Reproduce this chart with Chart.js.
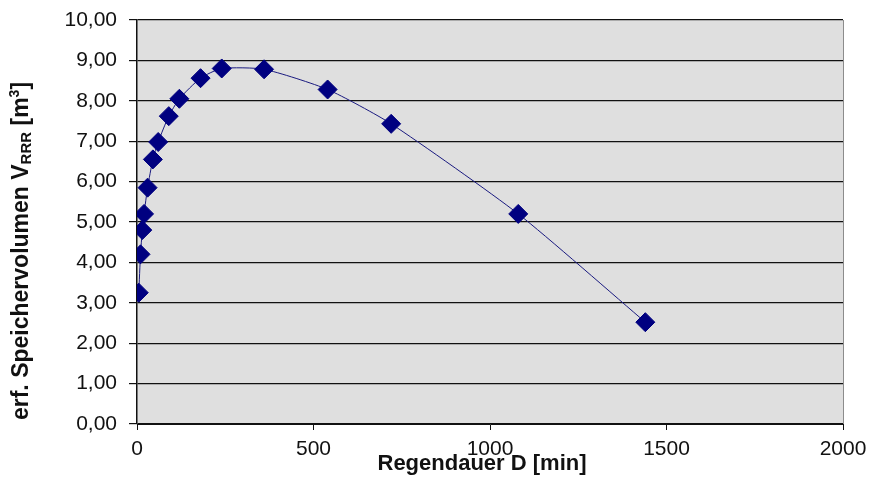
<!DOCTYPE html>
<html>
<head>
<meta charset="utf-8">
<script src="https://cdn.jsdelivr.net/npm/chart.js@4"></script>
<style>
  html, body { margin: 0; padding: 0; background: #fff; }
  #wrap { width: 870px; height: 481px; }
</style>
</head>
<body>
<div id="wrap"><canvas id="diagram"></canvas></div>
<script>
const durations = [5, 10, 15, 20, 30, 45, 60, 90, 120, 180, 240, 360, 540, 720, 1080, 1440];
const volumes = [3.25, 4.2, 4.8, 5.2, 5.85, 6.55, 6.98, 7.62, 8.05, 8.56, 8.8, 8.78, 8.28, 7.43, 5.2, 2.52];
const xTitle = 'Regendauer D [min]';
const yTitleParts = [
    { text: 'erf. Speichervolumen V', size: 23, shift: 0 },
    { text: 'RRR', size: 15, shift: 5 },
    { text: ' [m', size: 23, shift: 0 },
    { text: '3', size: 14, shift: -7 },
    { text: ']', size: 23, shift: 0 }
];

const FONT = '"Liberation Sans", Arial, sans-serif';

const plotBackground = {
    id: 'plotBackground',
    beforeDraw(chart) {
        const { ctx, chartArea: a } = chart;
        ctx.save();
        ctx.fillStyle = '#dfdfdf';
        ctx.fillRect(a.left, a.top, a.right - a.left, a.bottom - a.top);
        ctx.strokeStyle = '#8c8c8c';
        ctx.lineWidth = 1;
        ctx.beginPath();
        ctx.moveTo(a.right + 0.5, a.top);
        ctx.lineTo(a.right + 0.5, a.bottom);
        ctx.stroke();
        ctx.restore();
    }
};

// axis titles drawn by hand: the y title has a subscript and a superscript
const axisTitles = {
    id: 'axisTitles',
    afterDraw(chart) {
        const ctx = chart.ctx;
        const font = s => 'bold ' + s + 'px ' + FONT;
        ctx.save();
        ctx.fillStyle = '#111';
        ctx.textBaseline = 'middle';

        ctx.font = font(22);
        ctx.textAlign = 'center';
        ctx.fillText(xTitle, 482, 464);

        ctx.textAlign = 'left';
        let total = 0;
        yTitleParts.forEach(p => { ctx.font = font(p.size); total += ctx.measureText(p.text).width; });
        ctx.translate(22, 251);
        ctx.rotate(-Math.PI / 2);
        let x = -total / 2;
        yTitleParts.forEach(p => {
            ctx.font = font(p.size);
            ctx.fillText(p.text, x, p.shift);
            x += ctx.measureText(p.text).width;
        });
        ctx.restore();
    }
};

new Chart(
    document.getElementById('diagram'),
    {
        type: 'scatter',
        data: {
            datasets: [
                {
                    data: durations.map((d, i) => ({ x: d, y: volumes[i] })),
                    showLine: true,
                    borderColor: '#1a1a80',
                    borderWidth: 1,
                    tension: 0.2,
                    pointStyle: 'rectRot',
                    pointRadius: 9.5,
                    pointBackgroundColor: '#000080',
                    pointBorderColor: '#000080'
                }
            ]
        },
        options: {
            responsive: true,
            maintainAspectRatio: false,
            animation: false,
            layout: { padding: { top: 20, right: 27, left: 0, bottom: 0 } },
            plugins: {
                legend: { display: false },
                tooltip: { enabled: false }
            },
            scales: {
                x: {
                    type: 'linear',
                    min: 0,
                    max: 2000,
                    afterFit: s => { s.height = 57; s.paddingLeft = 0; s.paddingRight = 0; },
                    ticks: {
                        stepSize: 500,
                        color: '#111',
                        padding: 7,
                        font: { family: FONT, size: 21 },
                        callback: v => String(v)
                    },
                    grid: {
                        drawOnChartArea: false,
                        drawTicks: true,
                        tickLength: 6,
                        color: '#111'
                    },
                    border: { color: '#111', width: 1 }
                },
                y: {
                    min: 0,
                    max: 10,
                    afterFit: s => { s.width = 137; s.paddingTop = 0; s.paddingBottom = 0; },
                    ticks: {
                        stepSize: 1,
                        color: '#111',
                        padding: 12,
                        font: { family: FONT, size: 21 },
                        callback: v => v.toFixed(2).replace('.', ',')
                    },
                    grid: {
                        color: '#111',
                        lineWidth: 1.2,
                        tickLength: 8
                    },
                    border: { color: '#111', width: 1.5 }
                }
            }
        },
        plugins: [plotBackground, axisTitles]
    }
);
</script>
</body>
</html>
